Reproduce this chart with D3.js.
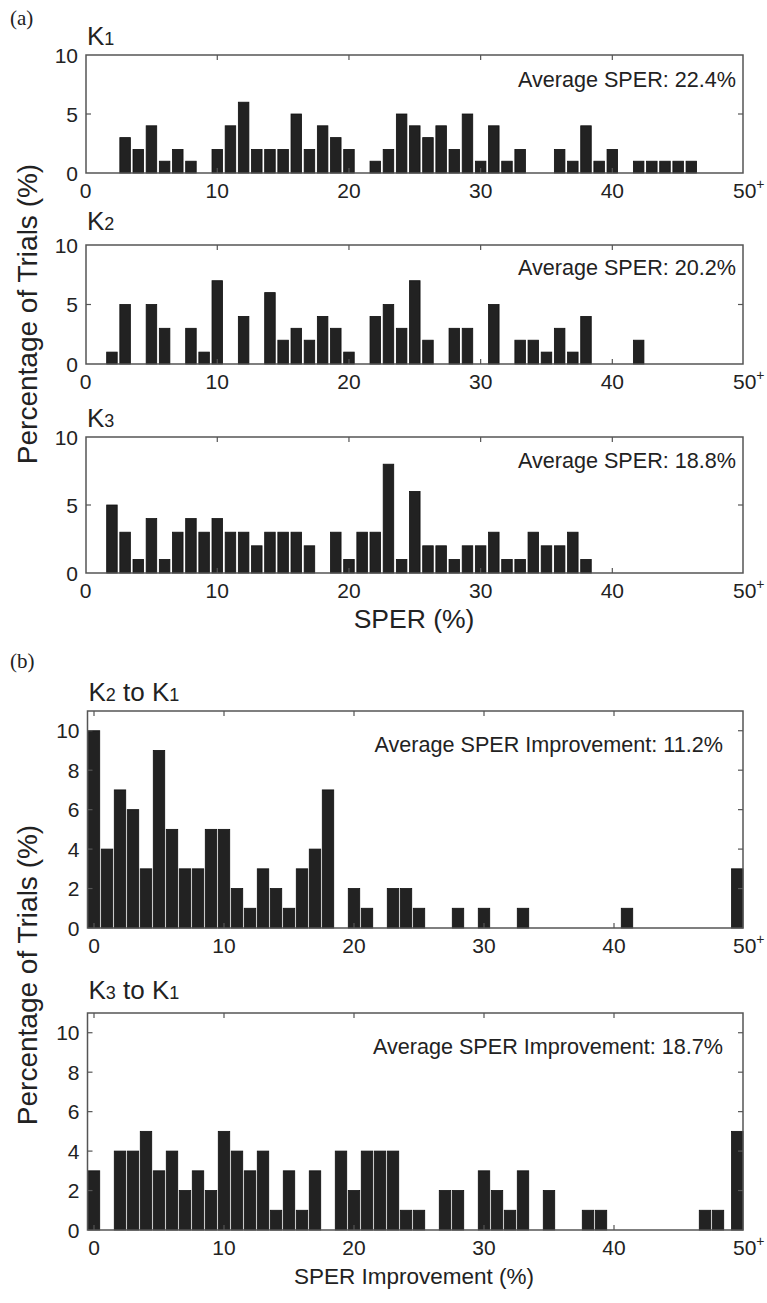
<!DOCTYPE html>
<html><head><meta charset="utf-8">
<script src="https://cdn.jsdelivr.net/npm/d3@7"></script>
<style>
body{margin:0;background:#fff;}
svg{display:block;}
text{font-family:"Liberation Sans",Arial,sans-serif;fill:#222;}
</style></head>
<body><svg id="c" width="767" height="1303"></svg>
<script>
// bins 0..50 (50 = "50+")
const bins = d3.range(0, 51);
const xTickVals = [0, 10, 20, 30, 40, 50];
const xTickLabels = ["0", "10", "20", "30", "40", "50"];
const yTicksA = [0, 5, 10];
const yTicksB = [0, 2, 4, 6, 8, 10];

const K1 = [0,0,0,3,2,4,1,2,1,0,2,4,6,2,2,2,5,2,4,3,2,0,1,2,5,4,3,4,2,5,1,4,1,2,0,0,2,1,4,1,2,0,1,1,1,1,1,0,0,0,0];
const K2 = [0,0,1,5,0,5,3,0,3,1,7,0,4,0,6,2,3,2,4,3,1,0,4,5,3,7,2,0,3,3,0,5,0,2,2,1,3,1,4,0,0,0,2,0,0,0,0,0,0,0,0];
const K3 = [0,0,5,3,1,4,1,3,4,3,4,3,3,2,3,3,3,2,0,3,1,3,3,8,1,6,2,2,1,2,2,3,1,1,3,2,2,3,1,0,0,0,0,0,0,0,0,0,0,0,0];
const K2toK1 = [10,4,7,6,3,9,5,3,3,5,5,2,1,3,2,1,3,4,7,0,2,1,0,2,2,1,0,0,1,0,1,0,0,1,0,0,0,0,0,0,0,1,0,0,0,0,0,0,0,0,3];
const K3toK1 = [3,0,4,4,5,3,4,2,3,2,5,4,3,4,1,3,1,3,0,4,2,4,4,4,1,1,0,2,2,0,3,2,1,3,0,2,0,0,1,1,0,0,0,0,0,0,0,1,1,0,5];

const panelNames = ["1", "2", "3"];
const averagesA = ["Average SPER: 22.4%", "Average SPER: 20.2%", "Average SPER: 18.8%"];
const averagesB = ["Average SPER Improvement: 11.2%", "Average SPER Improvement: 18.7%"];

const svg = d3.select("#c");
const frameColor = "#555";

function panel(cfg) {
  const g = svg.append("g");
  const x = d3.scaleLinear().domain([0, 50]).range([cfg.x0, cfg.x50]);
  const y = d3.scaleLinear().domain([0, cfg.ymax]).range([cfg.bottom, cfg.top]);
  const bw = cfg.bw * (x(1) - x(0));
  g.selectAll("rect.bar").data(bins.filter(b => cfg.values[b] > 0)).enter().append("rect")
    .attr("x", b => Math.min(Math.max(x(b) - bw / 2, cfg.left), cfg.right - bw))
    .attr("y", b => y(cfg.values[b]))
    .attr("width", bw)
    .attr("height", b => y(0) - y(cfg.values[b]))
    .attr("fill", "#222").attr("stroke", "#111").attr("stroke-width", 0.8);
  g.append("rect").attr("x", cfg.left).attr("y", cfg.top)
    .attr("width", cfg.right - cfg.left).attr("height", cfg.bottom - cfg.top)
    .attr("fill", "none").attr("stroke", frameColor).attr("stroke-width", 1.5);
  const tl = 5;
  xTickVals.forEach(v => {
    const px = x(v);
    if (px > cfg.left + 1 && px < cfg.right - 1) {
      g.append("line").attr("x1", px).attr("x2", px).attr("y1", cfg.top).attr("y2", cfg.top + tl).attr("stroke", frameColor).attr("stroke-width", 1.2);
      g.append("line").attr("x1", px).attr("x2", px).attr("y1", cfg.bottom).attr("y2", cfg.bottom - tl).attr("stroke", frameColor).attr("stroke-width", 1.2);
    }
  });
  cfg.yTicks.forEach(v => {
    const py = y(v);
    if (py > cfg.top + 1 && py < cfg.bottom - 1) {
      g.append("line").attr("x1", cfg.left).attr("x2", cfg.left + tl).attr("y1", py).attr("y2", py).attr("stroke", frameColor).attr("stroke-width", 1.2);
      g.append("line").attr("x1", cfg.right).attr("x2", cfg.right - tl).attr("y1", py).attr("y2", py).attr("stroke", frameColor).attr("stroke-width", 1.2);
    }
    g.append("text").attr("x", cfg.left - 8).attr("y", py).attr("dy", "0.36em")
      .attr("text-anchor", "end").attr("font-size", 21).text(v);
  });
  xTickVals.forEach((v, i) => {
    const t = g.append("text").attr("x", x(v)).attr("y", cfg.bottom + cfg.xlabOff)
      .attr("text-anchor", "middle").attr("font-size", 21);
    t.append("tspan").text(xTickLabels[i]);
    if (v === 50) {
      t.attr("text-anchor", "start").attr("x", x(v) - 11);
      t.append("tspan").attr("dy", -9).attr("font-size", 14).text("+");
    }
  });
  const tt = g.append("text").attr("x", cfg.left + 1).attr("y", cfg.titleY).attr("font-size", 26);
  cfg.title.forEach(p => {
    tt.append("tspan").attr("font-size", p.sub ? 18 : 26).text(p.t);
  });
  g.append("text").attr("x", cfg.avgX).attr("y", cfg.avgY).attr("text-anchor", "end")
    .attr("font-size", 21.6).text(cfg.avg);
}

const aTops = [55, 245, 437], aBottoms = [173, 364, 573];
const aData = [K1, K2, K3];
const aTitleY = [45, 230, 427];
const aAvgY = [87, 275, 468];
aData.forEach((vals, i) => {
  panel({
    values: vals, left: 86, right: 743, x0: 85.6, x50: 744, top: aTops[i], bottom: aBottoms[i],
    ymax: 10, yTicks: yTicksA, bw: 0.8, xlabOff: 25,
    title: [{t: "K"}, {t: panelNames[i], sub: true}], titleY: aTitleY[i],
    avg: averagesA[i], avgX: 736, avgY: aAvgY[i]
  });
});

const bTops = [711, 1013], bBottoms = [928, 1230];
const bData = [K2toK1, K3toK1];
const bTitleY = [701, 999];
const bAvgY = [752, 1054];
const bTitles = [[{t:"K"},{t:"2",sub:true},{t:" to K"},{t:"1",sub:true}], [{t:"K"},{t:"3",sub:true},{t:" to K"},{t:"1",sub:true}]];
bData.forEach((vals, i) => {
  panel({
    values: vals, left: 87.5, right: 743, x0: 94, x50: 744, top: bTops[i], bottom: bBottoms[i],
    ymax: 11, yTicks: yTicksB, bw: 0.88, xlabOff: 25,
    title: bTitles[i], titleY: bTitleY[i],
    avg: averagesB[i], avgX: 723, avgY: bAvgY[i]
  });
});

svg.append("text").attr("x", 10).attr("y", 25).attr("font-size", 21)
  .style("font-family", "'Liberation Serif',serif").text("(a)");
svg.append("text").attr("x", 10).attr("y", 668).attr("font-size", 21)
  .style("font-family", "'Liberation Serif',serif").text("(b)");

svg.append("text").attr("x", 414).attr("y", 628).attr("text-anchor", "middle").attr("font-size", 26.5).text("SPER (%)");
svg.append("text").attr("x", 414).attr("y", 1284).attr("text-anchor", "middle").attr("font-size", 22.5).text("SPER Improvement (%)");
svg.append("text").attr("transform", "translate(37,314) rotate(-90)").attr("text-anchor", "middle").attr("font-size", 28).text("Percentage of Trials (%)");
svg.append("text").attr("transform", "translate(37,975) rotate(-90)").attr("text-anchor", "middle").attr("font-size", 28).text("Percentage of Trials (%)");
</script></body></html>
